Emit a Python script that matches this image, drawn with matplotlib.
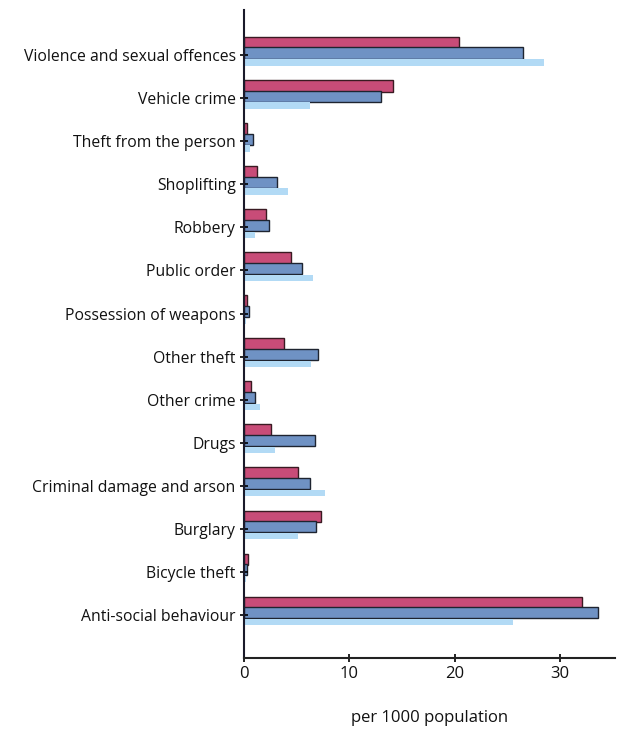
import matplotlib
matplotlib.use("Agg")
import matplotlib.pyplot as plt
import numpy as np

categories = ["Violence and sexual offences", "Vehicle crime", "Theft from the person",
              "Shoplifting", "Robbery", "Public order", "Possession of weapons",
              "Other theft", "Other crime", "Drugs", "Criminal damage and arson",
              "Burglary", "Bicycle theft", "Anti-social behaviour"]
series_a = [20.4, 14.1, 0.3, 1.2, 2.1, 4.5, 0.3, 3.8, 0.7, 2.6, 5.1, 7.3, 0.4, 32.1]
series_b = [26.5, 13.0, 0.9, 3.1, 2.4, 5.5, 0.5, 7.0, 1.0, 6.7, 6.3, 6.8, 0.3, 33.6]
series_c = [28.5, 6.3, 0.6, 4.2, 1.0, 6.5, 0.2, 6.4, 1.5, 2.9, 7.7, 5.1, 0.2, 25.5]
xticks = [0, 10, 20, 30]
xlabel = "per 1000 population"

plt.rcParams['font.family'] = ['Open Sans', 'DejaVu Sans']
fig = plt.figure(figsize=(6.22, 7.29), dpi=100)
ax = fig.add_axes([244/622, 1-658/729, (615-244)/622, (658-10)/729])

y = np.arange(len(categories))
ax.barh(y - 0.29, series_a, height=0.27, color="#c84c78", edgecolor="#3a1a22", linewidth=1.0)
ax.barh(y - 0.05, series_b, height=0.26, color="#6f92c4", edgecolor="#1e2430", linewidth=1.0)
ax.barh(y + 0.17, series_c, height=0.15, color="#b2daf5", edgecolor="none")

ax.set_ylim(len(categories) - 1 + 1.0, -1.05)
ax.set_xlim(0, 35.2)
ax.set_yticks(y)
ax.set_yticklabels(categories, fontsize=11.3, color="#111111")
ax.set_xticks(xticks)
ax.set_xticklabels([str(t) for t in xticks], fontsize=12, color="#111111")
ax.tick_params(axis='y', direction='inout', length=6, width=1.2, pad=3)
ax.tick_params(axis='x', direction='inout', length=6, width=1.2, pad=3)
for s in ["top", "right"]:
    ax.spines[s].set_visible(False)
ax.spines["left"].set_linewidth(1.5)
ax.spines["bottom"].set_linewidth(1.5)
ax.spines["left"].set_color("#1a1a2a")
ax.spines["bottom"].set_color("#222222")
ax.set_xlabel(xlabel, fontsize=12, labelpad=20, color="#111111")

fig.savefig("out.png", dpi=100)
